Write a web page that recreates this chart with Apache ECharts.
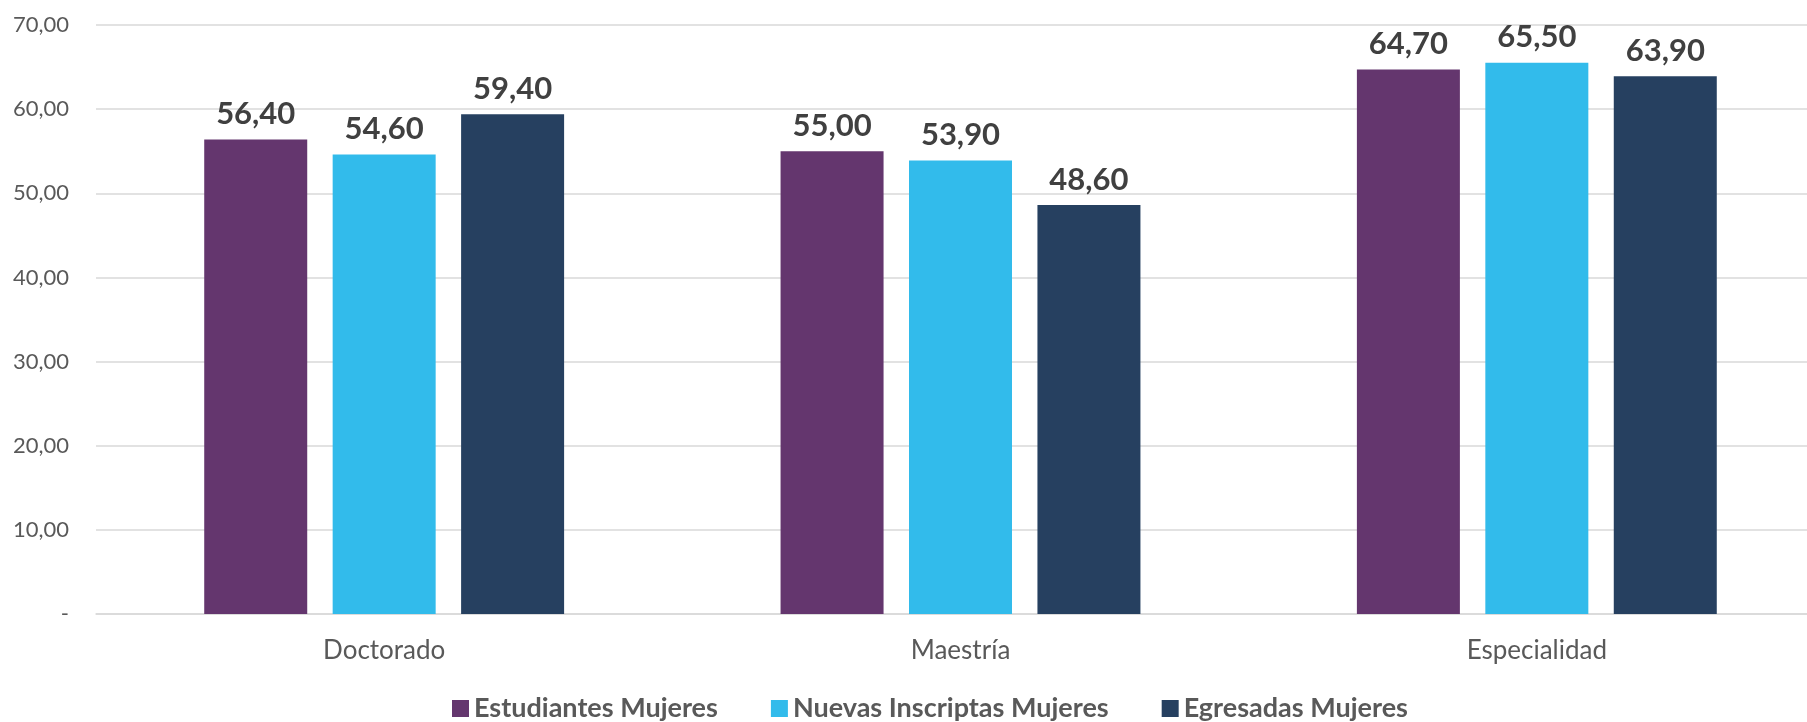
<!DOCTYPE html>
<html>
<head>
<meta charset="utf-8">
<script src="https://cdn.jsdelivr.net/npm/echarts@6/dist/echarts.min.js"></script>
<style>
  html, body { margin: 0; padding: 0; background: #fff; }
  #main { width: 1807px; height: 722px; }
</style>
</head>
<body>
<div id="main"></div>
<script>
  // categories and series (porcentaje de mujeres)
  const categories = ["Doctorado", "Maestría", "Especialidad"];
  const estudiantes = [56.4, 55.0, 64.7];
  const nuevasInscriptas = [54.6, 53.9, 65.5];
  const egresadas = [59.4, 48.6, 63.9];
  const seriesNames = ["Estudiantes Mujeres", "Nuevas Inscriptas Mujeres", "Egresadas Mujeres"];
  const colors = ["#64366E", "#32BBEB", "#264060"];

  const fmt = (v) => (v === 0 ? "-" : v.toFixed(2).replace(".", ","));

  var myChart = echarts.init(document.getElementById("main"));

  const labelStyle = {
    show: true,
    position: "top",
    distance: 10,
    fontFamily: "Lato",
    fontWeight: "bold",
    fontSize: 31,
    color: "#404040",
    formatter: (p) => fmt(p.value),
  };

  function makeSeries(name, data, color) {
    return {
      name: name,
      type: "bar",
      data: data,
      barWidth: 103,
      barGap: "24.7%",
      itemStyle: { color: color },
      label: labelStyle,
    };
  }

  var option = {
    backgroundColor: "#ffffff",
    animation: false,
    color: colors,
    // plot area runs a bit past the right edge, as in the original
    grid: {
      left: 96,
      right: -18,
      top: 25,
      bottom: 108,
      outerBoundsMode: "none",
    },
    legend: {
      left: 447,
      top: 690,
      itemWidth: 17,
      itemHeight: 17,
      itemGap: 53,
      icon: "rect",
      data: seriesNames,
      textStyle: {
        fontFamily: "Lato",
        fontWeight: "bold",
        fontSize: 27,
        color: "#595959",
      },
    },
    xAxis: {
      type: "category",
      data: categories,
      axisLine: { lineStyle: { color: "#D9D9D9", width: 1.5 } },
      axisTick: { show: false },
      axisLabel: {
        margin: 24,
        fontFamily: "Lato",
        fontSize: 26,
        color: "#595959",
      },
    },
    yAxis: {
      type: "value",
      min: 0,
      max: 70,
      interval: 10,
      axisLine: { show: false },
      axisTick: { show: false },
      splitLine: { lineStyle: { color: "#D9D9D9", width: 1.5 } },
      axisLabel: {
        margin: 27,
        fontFamily: "Lato",
        fontSize: 22,
        color: "#595959",
        formatter: fmt,
      },
    },
    series: [
      makeSeries(seriesNames[0], estudiantes, colors[0]),
      makeSeries(seriesNames[1], nuevasInscriptas, colors[1]),
      makeSeries(seriesNames[2], egresadas, colors[2]),
    ],
  };

  option && myChart.setOption(option);
</script>
</body>
</html>
